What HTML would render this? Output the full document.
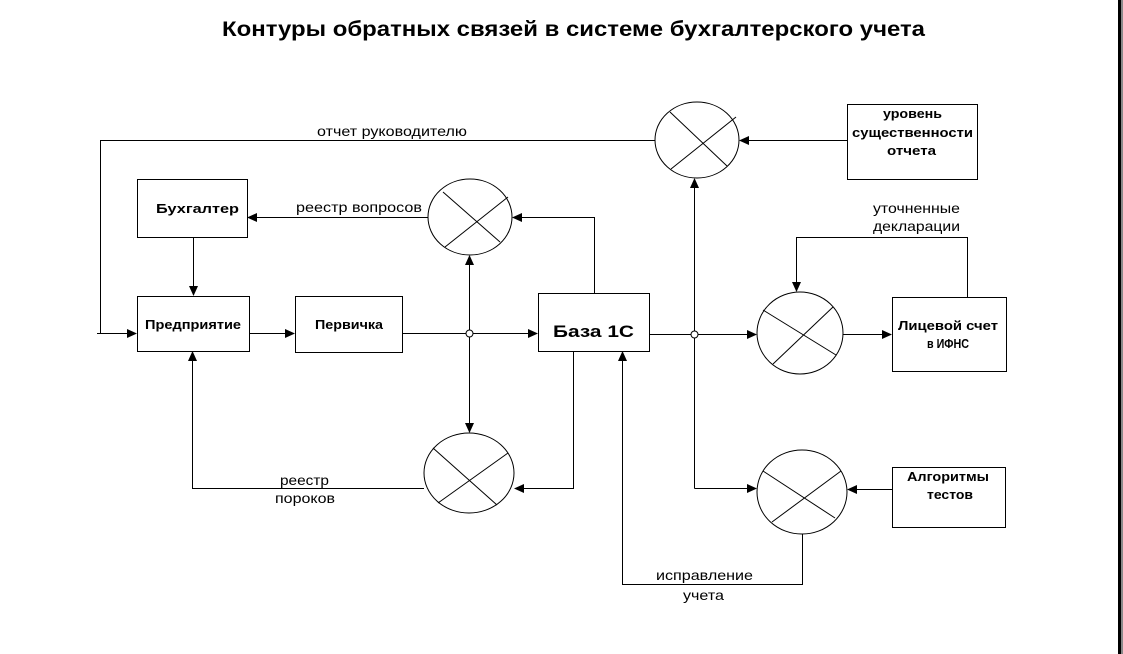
<!DOCTYPE html>
<html><head><meta charset="utf-8"><style>
html,body{margin:0;padding:0;background:#fff;width:1123px;height:654px;overflow:hidden}
svg{display:block}
text{font-family:"Liberation Sans","DejaVu Sans",sans-serif;fill:#000}
.b{font-weight:bold}
</style></head><body>
<svg width="1123" height="654" viewBox="0 0 1123 654" xmlns="http://www.w3.org/2000/svg">
<rect x="0" y="0" width="1123" height="654" fill="#fff"/>
<rect x="1118" y="0" width="3" height="654" fill="#000"/>
<rect x="1121" y="0" width="2" height="654" fill="#8a8a8a"/>

<text class="b" x="222" y="36" font-size="21" textLength="703" lengthAdjust="spacingAndGlyphs">Контуры обратных связей в системе бухгалтерского учета</text>

<g fill="none" stroke="#000" stroke-width="1">
<!-- boxes -->
<rect x="137.5" y="179.5" width="110" height="58"/>
<rect x="137.5" y="296.5" width="112" height="55"/>
<rect x="295.5" y="296.5" width="107" height="56"/>
<rect x="538.5" y="293.5" width="111" height="58"/>
<rect x="847.5" y="104.5" width="130" height="75"/>
<rect x="892.5" y="297.5" width="114" height="74"/>
<rect x="892.5" y="467.5" width="113" height="60"/>

<!-- ellipses -->
<ellipse cx="697" cy="140" rx="42" ry="38"/>
<line x1="670" y1="112" x2="727" y2="166"/><line x1="736" y1="117" x2="671" y2="169"/>
<ellipse cx="470" cy="217" rx="42" ry="38"/>
<line x1="443" y1="192" x2="500" y2="242"/><line x1="508" y1="197" x2="445" y2="247"/>
<ellipse cx="469" cy="473" rx="45" ry="40"/>
<line x1="433" y1="448" x2="497" y2="505"/><line x1="508" y1="453" x2="438" y2="503"/>
<ellipse cx="800" cy="333" rx="43" ry="41"/>
<line x1="763" y1="310" x2="836" y2="355"/><line x1="833" y1="307" x2="773" y2="364"/>
<ellipse cx="802" cy="492" rx="45" ry="42"/>
<line x1="763" y1="471" x2="835" y2="518"/><line x1="841" y1="471" x2="772" y2="522"/>

<!-- connectors -->
<polyline points="655,140.5 100.5,140.5 100.5,333.5"/>
<line x1="97" y1="333.5" x2="130" y2="333.5"/>
<line x1="193.5" y1="238" x2="193.5" y2="288"/>
<line x1="249" y1="333.5" x2="288" y2="333.5"/>
<line x1="402" y1="333.5" x2="531" y2="333.5"/>
<line x1="469.5" y1="333" x2="469.5" y2="263"/>
<line x1="469.5" y1="333" x2="469.5" y2="425"/>
<line x1="428" y1="217.5" x2="255" y2="217.5"/>
<polyline points="594.5,293 594.5,217.5 520,217.5"/>
<polyline points="573.5,351 573.5,488.5 522,488.5"/>
<polyline points="424,488.5 192.5,488.5 192.5,359"/>
<line x1="649" y1="334.5" x2="750" y2="334.5"/>
<line x1="694.5" y1="488.5" x2="694.5" y2="186"/>
<line x1="694.5" y1="488.5" x2="750" y2="488.5"/>
<line x1="847" y1="140.5" x2="747" y2="140.5"/>
<line x1="843" y1="334.5" x2="885" y2="334.5"/>
<polyline points="967.5,297 967.5,237.5 796.5,237.5 796.5,284"/>
<line x1="892" y1="489.5" x2="855" y2="489.5"/>
<polyline points="802.5,534 802.5,584.5 622.5,584.5 622.5,359"/>
</g>

<!-- junctions -->
<circle cx="469.5" cy="333.5" r="3.5" fill="#fff" stroke="#000" stroke-width="1"/>
<circle cx="694.5" cy="334.5" r="3.5" fill="#fff" stroke="#000" stroke-width="1"/>

<!-- arrowheads -->
<g fill="#000" stroke="none">
<polygon points="137,333.5 127,329 127,338"/>
<polygon points="193.5,296 189,286 198,286"/>
<polygon points="295,333.5 285,329 285,338"/>
<polygon points="538,333.5 528,329 528,338"/>
<polygon points="469.5,255 465,265 474,265"/>
<polygon points="469.5,433 465,423 474,423"/>
<polygon points="247,217.5 257,213 257,222"/>
<polygon points="512,217.5 522,213 522,222"/>
<polygon points="514,488.5 524,484 524,493"/>
<polygon points="192.5,351 188,361 197,361"/>
<polygon points="757,334.5 747,330 747,339"/>
<polygon points="694.5,178 690,188 699,188"/>
<polygon points="757,488.5 747,484 747,493"/>
<polygon points="739,140.5 749,136 749,145"/>
<polygon points="892,334.5 882,330 882,339"/>
<polygon points="796.5,292 792,282 801,282"/>
<polygon points="847,489.5 857,485 857,494"/>
<polygon points="622.5,351 618,361 627,361"/>
</g>

<!-- labels -->
<g font-size="14">
<text x="317" y="136" textLength="150" lengthAdjust="spacingAndGlyphs">отчет руководителю</text>
<text x="296" y="212" textLength="126" lengthAdjust="spacingAndGlyphs">реестр вопросов</text>
<text x="873" y="213" textLength="87" lengthAdjust="spacingAndGlyphs">уточненные</text>
<text x="873" y="231" textLength="87" lengthAdjust="spacingAndGlyphs">декларации</text>
<text x="280" y="485" textLength="49" lengthAdjust="spacingAndGlyphs">реестр</text>
<text x="275" y="503" textLength="60" lengthAdjust="spacingAndGlyphs">пороков</text>
<text x="656" y="580" textLength="97" lengthAdjust="spacingAndGlyphs">исправление</text>
<text x="683" y="600" textLength="41" lengthAdjust="spacingAndGlyphs">учета</text>
</g>

<g class="b" font-size="13">
<text class="b" x="156" y="213" textLength="83" lengthAdjust="spacingAndGlyphs">Бухгалтер</text>
<text class="b" x="145" y="329" textLength="96" lengthAdjust="spacingAndGlyphs">Предприятие</text>
<text class="b" x="315" y="329" textLength="68" lengthAdjust="spacingAndGlyphs">Первичка</text>
<text class="b" x="883" y="118" textLength="59" lengthAdjust="spacingAndGlyphs">уровень</text>
<text class="b" x="852" y="137" textLength="121" lengthAdjust="spacingAndGlyphs">существенности</text>
<text class="b" x="887" y="155" textLength="49" lengthAdjust="spacingAndGlyphs">отчета</text>
<text class="b" x="898" y="330" textLength="100" lengthAdjust="spacingAndGlyphs">Лицевой счет</text>
<text class="b" x="927" y="348" textLength="42" lengthAdjust="spacingAndGlyphs">в ИФНС</text>
<text class="b" x="907" y="481" textLength="82" lengthAdjust="spacingAndGlyphs">Алгоритмы</text>
<text class="b" x="927" y="499" textLength="46" lengthAdjust="spacingAndGlyphs">тестов</text>
</g>
<text class="b" x="553" y="337" font-size="17" textLength="81" lengthAdjust="spacingAndGlyphs">База 1С</text>
</svg>
</body></html>
